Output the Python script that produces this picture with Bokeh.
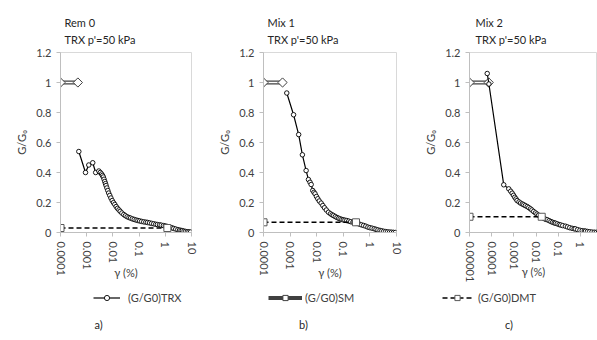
import math
from bokeh.plotting import figure
from bokeh.models import Range1d, FixedTicker, Label, Legend, LegendItem
from bokeh.layouts import row, column
from bokeh.embed import file_html
from bokeh.resources import INLINE

# ---------------- data ----------------
panel_titles = ["Rem 0", "Mix 1", "Mix 2"]
subtitle = "TRX p'=50 kPa"
captions = ["a)", "b)", "c)"]
legend_labels = ["(G/G0)TRX", "(G/G0)SM", "(G/G0)DMT"]
x_title = "γ (%)"
y_title = "G/G₀"

xticks_ab = [0.0001, 0.001, 0.01, 0.1, 1, 10]
xlabels_ab = ["0.0001", "0.001", "0.01", "0.1", "1", "10"]
xticks_c = [0.00001, 0.0001, 0.001, 0.01, 0.1, 1, 10]
xlabels_c = ["0.00001", "0.0001", "0.001", "0.01", "0.1", "1", "10"]
yticks = [0, 0.2, 0.4, 0.6, 0.8, 1.0, 1.2]
ylabels = ["0", "0.2", "0.4", "0.6", "0.8", "1", "1.2"]

# panel a) Rem 0
trx_a_x = [0.0005, 0.0009, 0.0012, 0.0017, 0.0022, 0.0029, 0.0033, 0.0037, 0.0040, 0.0043,
           0.0046, 0.0049, 0.0052, 0.0055, 0.0059, 0.0064, 0.0069, 0.0076, 0.0084, 0.0094,
           0.0105, 0.0118, 0.0133, 0.015, 0.017, 0.019, 0.022, 0.026, 0.030, 0.035,
           0.041, 0.047, 0.055, 0.065, 0.077, 0.09, 0.105, 0.125, 0.15, 0.18,
           0.21, 0.25, 0.3, 0.36, 0.43, 0.5, 0.6, 0.7, 0.85, 1.0,
           1.2, 1.4, 1.6, 1.8, 2.1, 2.5, 3.0, 3.5, 4.0, 4.5,
           5.2, 6.0, 7.0, 8.0, 9.2]
trx_a_y = [0.54, 0.40, 0.45, 0.465, 0.40, 0.41, 0.40, 0.39, 0.38, 0.37,
           0.355, 0.34, 0.326, 0.313, 0.297, 0.28, 0.263, 0.247, 0.23, 0.213,
           0.199, 0.187, 0.173, 0.161, 0.151, 0.141, 0.130, 0.120, 0.112, 0.105,
           0.100, 0.096, 0.091, 0.087, 0.083, 0.080, 0.077, 0.074, 0.071, 0.069,
           0.067, 0.064, 0.061, 0.058, 0.055, 0.053, 0.051, 0.049, 0.046, 0.044,
           0.040, 0.036, 0.033, 0.031, 0.027, 0.023, 0.019, 0.016, 0.014, 0.012,
           0.009, 0.007, 0.005, 0.004, 0.003]
sm_a_x = [0.0001, 0.00046]
sm_a_y = [1.0, 1.0]
dmt_a_x = [0.0001, 1.2]
dmt_a_y = [0.03, 0.03]

# panel b) Mix 1
trx_b_x = [0.00075, 0.00135, 0.0021, 0.0029, 0.0040, 0.0049, 0.0056, 0.0062, 0.0071, 0.0079,
           0.0087, 0.0098, 0.011, 0.0125, 0.0147, 0.017, 0.0196, 0.023, 0.0277, 0.033,
           0.038, 0.043, 0.05, 0.058, 0.067, 0.076, 0.088, 0.1, 0.115, 0.135,
           0.16, 0.19, 0.23, 0.28, 0.33, 0.4, 0.48, 0.58, 0.7, 0.84,
           1.0, 1.2, 1.45, 1.7, 2.0, 2.4, 2.8, 3.3, 3.9, 4.6,
           5.5, 6.5, 7.7, 9.0]
trx_b_y = [0.93, 0.785, 0.653, 0.518, 0.413, 0.353, 0.335, 0.32, 0.28, 0.268,
           0.258, 0.24, 0.225, 0.21, 0.196, 0.18, 0.165, 0.15, 0.135, 0.125,
           0.118, 0.113, 0.106, 0.1, 0.095, 0.091, 0.087, 0.084, 0.082, 0.08,
           0.076, 0.072, 0.068, 0.065, 0.061, 0.056, 0.051, 0.047, 0.042, 0.036,
           0.032, 0.029, 0.025, 0.021, 0.017, 0.014, 0.011, 0.008, 0.006, 0.004,
           0.003, 0.002, 0.001, 0.0]
sm_b_x = [0.0001, 0.00052]
sm_b_y = [1.0, 1.0]
dmt_b_x = [0.0001, 0.3]
dmt_b_y = [0.068, 0.068]

# panel c) Mix 2
trx_c_x = [0.000063, 0.000075, 0.00035, 0.00059, 0.00072, 0.00084, 0.00097, 0.0011, 0.00125, 0.0014,
           0.0017, 0.002, 0.0024, 0.0028, 0.0033, 0.004, 0.0047, 0.0056, 0.0065, 0.0078,
           0.0094, 0.011, 0.013, 0.016, 0.019, 0.023, 0.027, 0.032, 0.039, 0.047,
           0.056, 0.066, 0.075, 0.09, 0.11, 0.13, 0.16, 0.21, 0.26, 0.33,
           0.42, 0.52, 0.59, 0.75, 0.95, 1.2, 1.5, 1.7, 2.1, 2.6,
           3.3, 4.2, 5.2, 6.5]
trx_c_y = [1.06, 0.99, 0.318, 0.291, 0.275, 0.262, 0.248, 0.235, 0.224, 0.213,
           0.204, 0.196, 0.19, 0.185, 0.179, 0.173, 0.166, 0.158, 0.15, 0.14,
           0.131, 0.123, 0.115, 0.107, 0.1, 0.093, 0.088, 0.085, 0.079, 0.073,
           0.068, 0.064, 0.062, 0.058, 0.053, 0.05, 0.046, 0.042, 0.037, 0.032,
           0.028, 0.025, 0.024, 0.019, 0.015, 0.012, 0.01, 0.009, 0.007, 0.005,
           0.003, 0.002, 0.001, 0.0]
sm_c_x = [0.00001, 0.000074]
sm_c_y = [1.0, 1.0]
dmt_c_x = [0.00001, 0.018]
dmt_c_y = [0.105, 0.105]

FONT = "Lato"
TXT = "#404040"
AX = "#bfbfbf"
HEAD_H = 46          # header strip (panel titles)
FRAME_TOP = 52       # page y of plot-area top
FRAME_BOTTOM = 232   # page y of plot-area bottom
MAIN_END = 291       # page y where the plot row ends
FOOT_H = 340 - MAIN_END
MAIN_H = MAIN_END - HEAD_H
STRIP_LEFT = 60

STYLE = dict(
    sm_outer=dict(line_width=4, line_color="#404040"),
    sm_inner=dict(line_width=1.6, line_color="white"),
    sm_pts=dict(marker="square", angle=math.pi / 4, size=6.5, fill_color="white",
                line_color="#404040", line_width=1),
    trx_line=dict(line_width=1.2, line_color="black"),
    trx_pts=dict(marker="circle", size=4.5, fill_color="white", line_color="black",
                 line_width=0.9),
    dmt_line=dict(line_width=1.5, line_color="black", line_dash="5 3"),
    dmt_pts=dict(marker="square", size=7, fill_color="white", line_color="#595959",
                 line_width=1),
)


def draw_series(p, trx_x, trx_y, sm_x, sm_y, dmt_x, dmt_y):
    r = {}
    r["sm_outer"] = p.line(sm_x, sm_y, **STYLE["sm_outer"])
    r["sm_inner"] = p.line(sm_x, sm_y, **STYLE["sm_inner"])
    r["sm_pts"] = p.scatter(sm_x, sm_y, **STYLE["sm_pts"])
    r["trx_line"] = p.line(trx_x, trx_y, **STYLE["trx_line"])
    r["trx_pts"] = p.scatter(trx_x, trx_y, **STYLE["trx_pts"])
    r["dmt_line"] = p.line(dmt_x, dmt_y, **STYLE["dmt_line"])
    r["dmt_pts"] = p.scatter(dmt_x, dmt_y, **STYLE["dmt_pts"])
    return r


def lab(x, y, text, align="center"):
    return Label(x=x, y=y, x_units="screen", y_units="screen", text=text,
                 text_align=align, text_baseline="middle", text_font=FONT,
                 text_font_size="11px", text_color="#262626")


def strip(height):
    s = figure(width=597, height=height, x_range=Range1d(0, 1), y_range=Range1d(5, 6),
               output_backend="svg", toolbar_location=None,
               x_axis_location=None, y_axis_location=None,
               min_border_left=STRIP_LEFT, min_border_right=0,
               min_border_top=0, min_border_bottom=0)
    s.grid.visible = False
    s.outline_line_color = None
    return s


def make_panel(trx_x, trx_y, sm_x, sm_y, dmt_x, dmt_y, x_start, x_end, xticks, xlabels,
               width, bl, br, xlabel_standoff):
    p = figure(width=width, height=MAIN_H, x_axis_type="log",
               x_range=Range1d(x_start, x_end), y_range=Range1d(0, 1.2),
               output_backend="svg", toolbar_location=None,
               min_border_left=bl, min_border_right=br,
               min_border_top=FRAME_TOP - HEAD_H, min_border_bottom=MAIN_END - FRAME_BOTTOM)
    p.grid.visible = False
    p.outline_line_color = "#d9d9d9"

    p.xaxis.ticker = FixedTicker(ticks=xticks)
    p.xaxis.major_label_overrides = {t: l for t, l in zip(xticks, xlabels)}
    p.xaxis.major_label_orientation = "vertical"
    p.yaxis.ticker = FixedTicker(ticks=yticks)
    p.yaxis.major_label_overrides = {t: l for t, l in zip(yticks, ylabels)}
    for ax in (p.xaxis, p.yaxis):
        ax.axis_line_color = AX
        ax.major_tick_line_color = AX
        ax.major_tick_in = 0
        ax.major_tick_out = 4
        ax.minor_tick_line_color = None
        ax.major_label_text_font = FONT
        ax.major_label_text_font_size = "11px"
        ax.major_label_text_color = TXT
        ax.major_label_standoff = 5
        ax.axis_label_text_font = FONT
        ax.axis_label_text_font_size = "11px"
        ax.axis_label_text_font_style = "normal"
        ax.axis_label_text_color = TXT
    p.yaxis.axis_label = y_title
    p.yaxis.axis_label_standoff = 5
    # x-axis title pulled up beside the short tick labels, as in the reference
    p.xaxis.axis_label = x_title
    p.xaxis.axis_label_standoff = xlabel_standoff
    p.xaxis.axis_label_text_align = "left"

    draw_series(p, trx_x, trx_y, sm_x, sm_y, dmt_x, dmt_y)
    return p


pa = make_panel(trx_a_x, trx_a_y, sm_a_x, sm_a_y, dmt_a_x, dmt_a_y, 0.0001, 10,
                xticks_ab, xlabels_ab, 205, 60, 14, -13)
pb = make_panel(trx_b_x, trx_b_y, sm_b_x, sm_b_y, dmt_b_x, dmt_b_y, 0.0001, 10,
                xticks_ab, xlabels_ab, 205, 58, 14, -13)
pc = make_panel(trx_c_x, trx_c_y, sm_c_x, sm_c_y, dmt_c_x, dmt_c_y, 0.00001, 5.9,
                xticks_c, xlabels_c, 187, 59, 0, -20)

# header: panel titles
h = strip(HEAD_H)
title_x = [64, 267, 475]
for i in range(3):
    h.add_layout(lab(title_x[i] - STRIP_LEFT, HEAD_H - 22, panel_titles[i], "left"))
    h.add_layout(lab(title_x[i] - STRIP_LEFT, HEAD_H - 39, subtitle, "left"))

# footer: legend entries and captions
f = strip(FOOT_H)
fr = draw_series(f, trx_a_x, trx_a_y, sm_a_x, sm_a_y, dmt_a_x, dmt_a_y)
legend_renderers = [[fr["trx_line"], fr["trx_pts"]], [fr["sm_outer"], fr["sm_pts"]],
                    [fr["dmt_line"], fr["dmt_pts"]]]
legend_x = [93, 268, 442]
glyph_w = [27, 34, 30]
label_gap = [8, 3, 6]
caption_x = [98, 303, 508.5]
for i in range(3):
    leg = Legend(items=[LegendItem(label=legend_labels[i], renderers=legend_renderers[i])],
                 location=(legend_x[i] - STRIP_LEFT, 340 - 297 - 6.5),
                 glyph_width=glyph_w[i], glyph_height=13,
                 label_height=13, label_standoff=label_gap[i], padding=0, margin=0,
                 spacing=0, border_line_color=None, background_fill_alpha=0,
                 label_text_font=FONT, label_text_font_size="11px", label_text_color=TXT)
    f.add_layout(leg)
    f.add_layout(lab(caption_x[i] - STRIP_LEFT, 340 - 324, captions[i]))

layout = column(h, row(pa, pb, pc), f)
open("out.html", "w").write(file_html(layout, INLINE))
